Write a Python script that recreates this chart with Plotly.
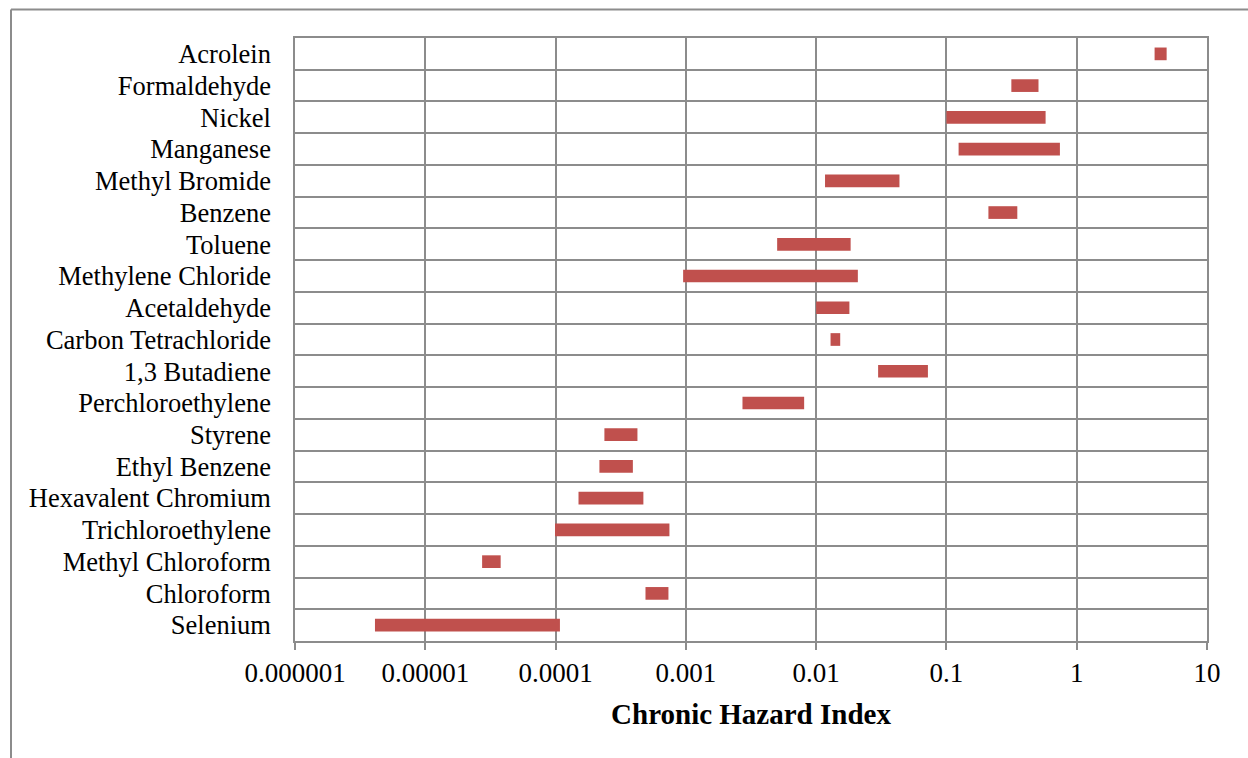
import plotly.graph_objects as go

# Pollutants, listed top to bottom
pollutants = [
    "Acrolein", "Formaldehyde", "Nickel", "Manganese", "Methyl Bromide",
    "Benzene", "Toluene", "Methylene Chloride", "Acetaldehyde",
    "Carbon Tetrachloride", "1,3 Butadiene", "Perchloroethylene", "Styrene",
    "Ethyl Benzene", "Hexavalent Chromium", "Trichloroethylene",
    "Methyl Chloroform", "Chloroform", "Selenium",
]

# Range of the chronic hazard index for each pollutant
hi_low = [
    3.96, 0.315, 0.100, 0.124, 0.0117,
    0.210, 0.00502, 0.000953, 0.0100,
    0.0129, 0.0299, 0.00272, 0.000237,
    0.000217, 0.000150, 0.0000990,
    0.0000273, 0.000490, 0.00000411,
]
hi_high = [
    4.90, 0.509, 0.577, 0.743, 0.0436,
    0.350, 0.0184, 0.0209, 0.0180,
    0.0153, 0.0721, 0.00809, 0.000425,
    0.000392, 0.000472, 0.000748,
    0.0000379, 0.000735, 0.000108,
]

tick_vals = [1e-6, 1e-5, 1e-4, 1e-3, 1e-2, 1e-1, 1, 10]
tick_text = ["0.000001", "0.00001", "0.0001", "0.001", "0.01", "0.1", "1", "10"]

W, H = 1248, 758
ML, MR, MT, MB = 295, 41, 38, 117
GRID = "#8c8c8c"
FONT = "Liberation Serif, Times New Roman, serif"

fig = go.Figure(
    go.Bar(
        y=pollutants,
        x=[h - l for l, h in zip(hi_low, hi_high)],
        base=hi_low,
        orientation="h",
        width=0.4,
        marker=dict(color="#C0504D", line=dict(width=0)),
        hoverinfo="skip",
    )
)

# outer chart frame (left and top edges)
pw, ph = W - ML - MR, H - MT - MB
fx0 = (11 - ML) / pw
fy1 = (H - MB - 9.5) / ph
fig.add_shape(type="line", xref="paper", yref="paper", x0=fx0, x1=fx0,
              y0=fy1, y1=-0.3, line=dict(color="#8c8c8c", width=2))
fig.add_shape(type="line", xref="paper", yref="paper", x0=fx0, x1=1.2,
              y0=fy1, y1=fy1, line=dict(color="#8c8c8c", width=2))

fig.update_layout(
    width=W, height=H, autosize=False,
    margin=dict(l=ML, r=MR, t=MT, b=MB),
    plot_bgcolor="white", paper_bgcolor="white",
    showlegend=False,
    font=dict(family=FONT, color="black", size=26),
    xaxis=dict(
        type="log", range=[-6, 1],
        tickmode="array", tickvals=tick_vals, ticktext=tick_text,
        showgrid=True, gridcolor=GRID, gridwidth=1.5,
        showline=True, linecolor=GRID, linewidth=1.5, mirror=True,
        ticks="outside", ticklen=7, tickcolor=GRID, tickwidth=1.5,
        tickfont=dict(family=FONT, size=27, color="black"),
        title=dict(text="<b>Chronic Hazard Index</b>",
                   font=dict(family=FONT, size=29, color="black"),
                   standoff=17),
        zeroline=False,
    ),
    yaxis=dict(
        type="category", autorange="reversed",
        tickmode="linear", tick0=0, dtick=1,
        tickson="boundaries",
        showgrid=True, gridcolor=GRID, gridwidth=1.5,
        showline=True, linecolor=GRID, linewidth=1.5, mirror=True,
        ticks="", ticklabelstandoff=17,
        tickfont=dict(family=FONT, size=26.5, color="black"),
        zeroline=False,
    ),
)

fig.write_html("out.html")
